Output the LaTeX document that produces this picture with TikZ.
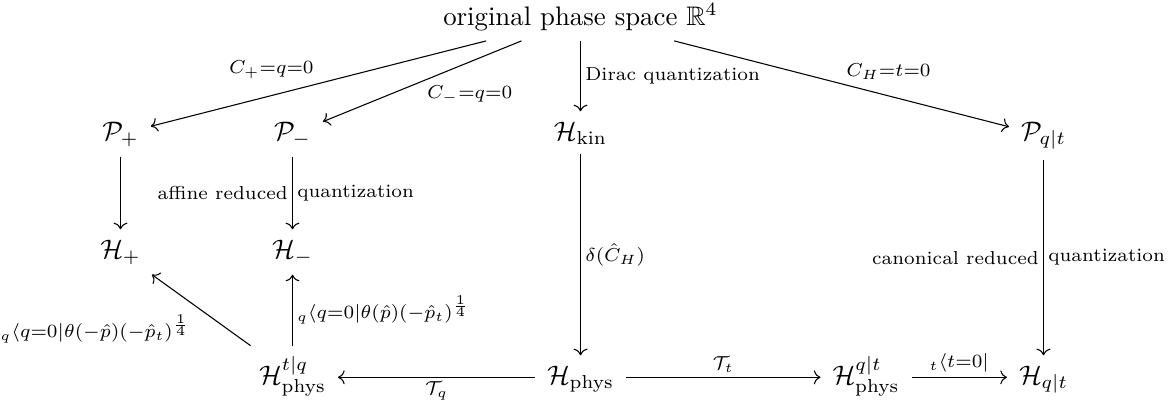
\documentclass[tikz,border=0pt]{standalone}
\usepackage{amsmath,amssymb}
\usetikzlibrary{cd}
\tikzset{
  cell/.style={anchor=base, inner xsep=1ex, inner ysep=0.85ex},
  cdarr/.style={->, >={cm to}, line width=0.4pt},
  lab/.style={inner sep=1.6pt, font=\normalsize},
  tlab/.style={inner sep=1.6pt, font=\scriptsize},
}
\begin{document}
\begin{tikzpicture}[x=0.37313pt, y=-0.37313pt]
\useasboundingbox (0,0) rectangle (1170,402);
% nodes (x = column centre, y = baseline, in reference pixels)
\node[cell] (T)   at (580.5,25)  {original phase space $\mathbb{R}^4$};
\node[cell] (Pp)  at (120.5,140) {$\mathcal{P}_+$};
\node[cell] (Pm)  at (292.5,140) {$\mathcal{P}_-$};
\node[cell] (Hk)  at (580.5,140) {$\mathcal{H}_{\mathrm{kin}}$};
\node[cell] (Pqt) at (1043.5,140) {$\mathcal{P}_{q|t}$};
\node[cell] (Hp)  at (120.5,258) {$\mathcal{H}_+$};
\node[cell] (Hm)  at (292.5,258) {$\mathcal{H}_-$};
\node[cell] (Htq) at (292.5,384) {$\mathcal{H}^{t|q}_{\mathrm{phys}}$};
\node[cell] (Hph) at (580.5,384) {$\mathcal{H}_{\mathrm{phys}}$};
\node[cell] (Hqt) at (866,384) {$\mathcal{H}^{q|t}_{\mathrm{phys}}$};
\node[cell] (Hq)  at (1043.5,384) {$\mathcal{H}_{q|t}$};
% arrows from the top node
\draw[cdarr] (T) -- (Pp) node[lab, midway, anchor=south east] {$\scriptstyle C_+=q=0$};
\draw[cdarr] (T) -- (Pm) node[lab, midway, anchor=north west] {$\scriptstyle C_-=q=0$};
\draw[cdarr] (T) -- (Hk) node[tlab, midway, anchor=west] {Dirac quantization};
\draw[cdarr] (T) -- (Pqt) node[lab, midway, anchor=south west] {$\scriptstyle C_H=t=0$};
% vertical arrows
\draw[cdarr] (Pp) -- (Hp);
\draw[cdarr] (Pm) -- (Hm) node[tlab, midway, anchor=east] {affine reduced}
                          node[tlab, midway, anchor=west] {quantization};
\draw[cdarr] (Hk) -- (Hph) node[lab, midway, anchor=west] {$\scriptstyle \delta(\hat{C}_H)$};
\draw[cdarr] (Pqt) -- (Hq) node[tlab, midway, anchor=east] {canonical reduced}
                           node[tlab, midway, anchor=west] {quantization};
\draw[cdarr] (Htq) -- (Hm) node[lab, midway, anchor=west] {$\scriptstyle {}_q\langle q=0|\theta(\hat{p})(-\hat{p}_t)^{\frac{1}{4}}$};
\draw[cdarr] (Htq) -- (Hp) node[lab, midway, anchor=north east, xshift=-2.5pt, yshift=0pt] {$\scriptstyle {}_q\langle q=0|\theta(-\hat{p})(-\hat{p}_t)^{\frac{1}{4}}$};
% horizontal arrows (at the math axis)
\draw[cdarr] ([yshift=2.5pt]Hph.base west) -- ([yshift=2.5pt]Htq.base east) node[lab, midway, below] {$\scriptstyle \mathcal{T}_q$};
\draw[cdarr] ([yshift=2.5pt]Hph.base east) -- ([yshift=2.5pt]Hqt.base west) node[lab, midway, above] {$\scriptstyle \mathcal{T}_t$};
\draw[cdarr] ([yshift=2.5pt]Hqt.base east) -- ([yshift=2.5pt]Hq.base west) node[lab, midway, above] {$\scriptstyle {}_t\langle t=0|$};
\end{tikzpicture}
\end{document}
